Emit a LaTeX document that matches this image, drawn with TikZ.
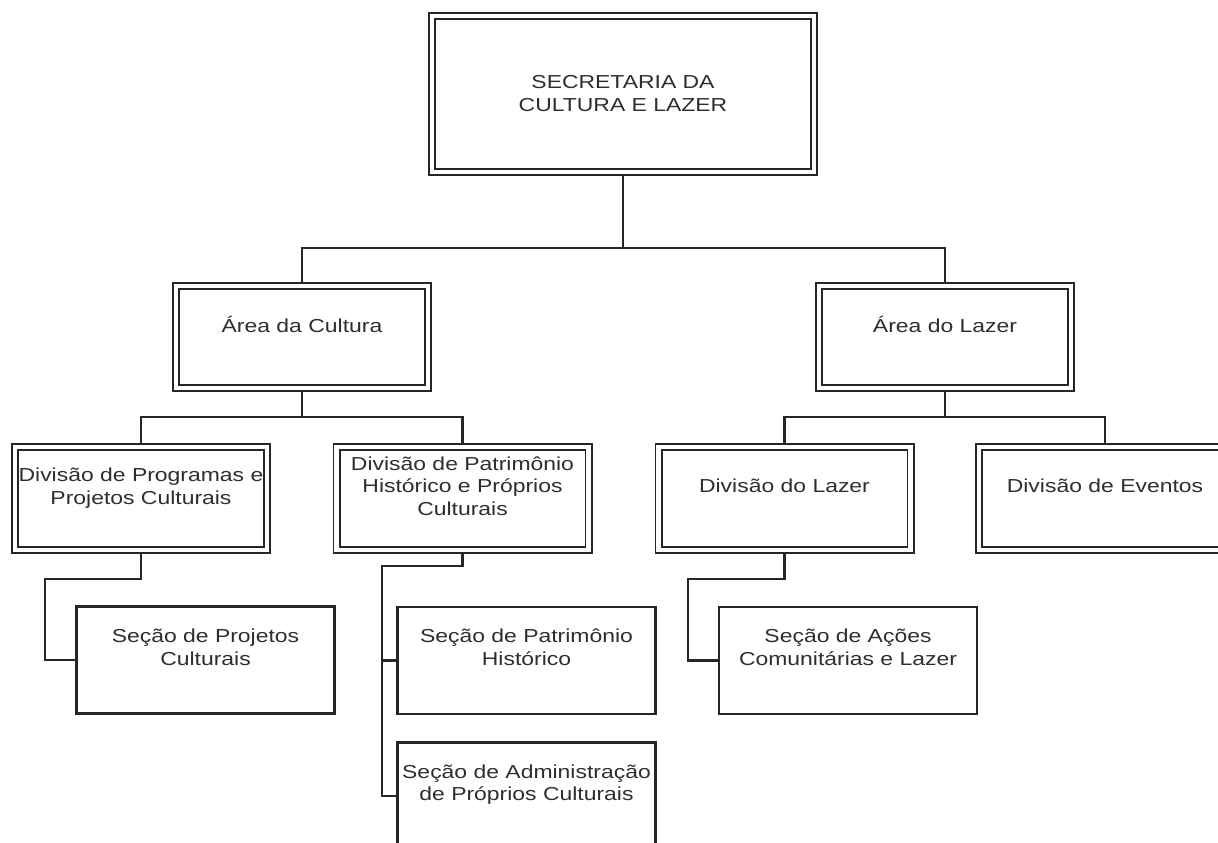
\documentclass[tikz,border=0pt]{standalone}
\usepackage{fontspec}
\setmainfont{Liberation Sans}[FakeStretch=1.22]
\usetikzlibrary{backgrounds}
\begin{document}
\begin{tikzpicture}[x=1pt,y=-1pt,
  dbox/.style={rectangle, draw=black!85, fill=white, line width=1.8pt, double=white, double distance=4.4pt, inner sep=0pt, outer sep=0pt},
  lvbox/.style={dbox, minimum width=252pt, minimum height=102pt},
  divbox/.style={dbox, minimum width=252pt, minimum height=103pt},
  sbox/.style={rectangle, draw=black!85, fill=white, line width=2.1pt, minimum width=258pt, minimum height=107pt, inner sep=0pt, outer sep=0pt},
  txt/.style={align=center, text=black!82, font=\fontsize{18.8}{22.5}\selectfont, inner sep=0pt, text depth=0pt},
  conn/.style={draw=black!85, line width=2.1pt}]
\path[use as bounding box] (0,0) rectangle (1218,843);

% boxes
\node[dbox, minimum width=382pt, minimum height=156pt] (sec) at (623,94) {};
\node[lvbox] (cult) at (302,337) {};
\node[lvbox] (lazer) at (945,337) {};
\node[divbox] (progr) at (141,498.5) {};
\node[divbox] (patr) at (462.5,498.5) {};
\node[divbox] (divlaz) at (784.5,498.5) {};
\node[divbox] (event) at (1105,498.5) {};
\node[sbox] (projetos) at (205.5,660) {};
\node[sbox] (secpatr) at (526.5,660.5) {};
\node[sbox] (admin) at (526.5,796) {};
\node[sbox] (acoes) at (848,660.5) {};

% texts
\node[txt] (sec-t) at (623,93.5) {SECRETARIA DA\\CULTURA E LAZER};
\node[txt] (cult-t) at (302,324) {Área da Cultura};
\node[txt] (lazer-t) at (945,324) {Área do Lazer};
\node[txt] (progr-t) at (141,486) {Divisão de Programas e\\Projetos Culturais};
\node[txt] (patr-t) at (462.5,486) {Divisão de Patrimônio\\Histórico e Próprios\\Culturais};
\node[txt] (divlaz-t) at (784.5,486) {Divisão do Lazer};
\node[txt] (event-t) at (1105,486) {Divisão de Eventos};
\node[txt] (projetos-t) at (205.5,647) {Seção de Projetos\\Culturais};
\node[txt] (secpatr-t) at (526.5,647) {Seção de Patrimônio\\Histórico};
\node[txt] (admin-t) at (526.5,782.5) {Seção de Administração\\de Próprios Culturais};
\node[txt] (acoes-t) at (848,647) {Seção de Ações\\Comunitárias e Lazer};

% connectors
\begin{scope}[on background layer]
\fill[white] (0,0) rectangle (1218,843);
\coordinate (j0) at (623,248);
\draw[conn] (sec.south) -- (j0);
\draw[conn] (cult.north) |- (j0) -| (lazer.north);
\coordinate (j1) at (302,417);
\draw[conn] (cult.south) -- (j1);
\draw[conn] (progr.north) |- (j1) -| (patr.north);
\coordinate (j2) at (945,417);
\draw[conn] (lazer.south) -- (j2);
\draw[conn] (divlaz.north) |- (j2) -| (event.north);
\coordinate (k1) at (45,579);
\draw[conn] (progr.south) |- (k1) |- (projetos.west);
\coordinate (k2) at (382,566);
\draw[conn] (patr.south) |- (k2) |- (admin.west);
\draw[conn] (k2) |- (secpatr.west);
\coordinate (k3) at (688,579);
\draw[conn] (divlaz.south) |- (k3) |- (acoes.west);
\end{scope}
\end{tikzpicture}
\end{document}
